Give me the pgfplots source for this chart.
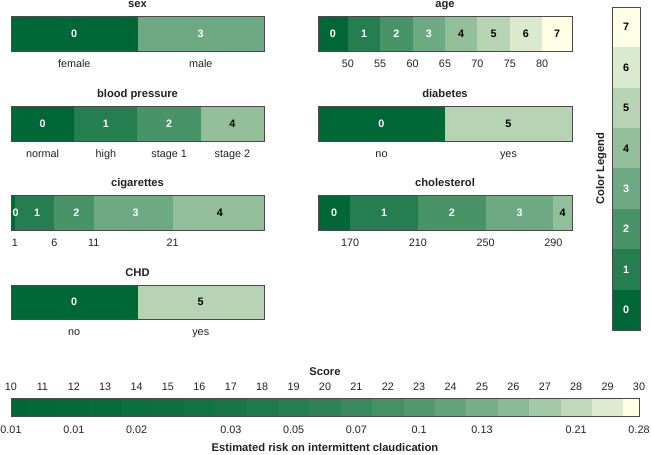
\documentclass[border=0pt]{standalone}
\usepackage{pgfplots}
\pgfplotsset{compat=1.18}
\usepackage{fontspec}
\setmainfont{Liberation Sans}
\definecolor{cA}{HTML}{006837}
\definecolor{cB}{HTML}{FFFFE5}
\colorlet{c0}{cA}
\colorlet{c1}{cB!14.29!cA}
\colorlet{c2}{cB!28.57!cA}
\colorlet{c3}{cB!42.86!cA}
\colorlet{c4}{cB!57.14!cA}
\colorlet{c5}{cB!71.43!cA}
\colorlet{c6}{cB!85.71!cA}
\colorlet{c7}{cB}
\definecolor{bord}{HTML}{4A4A4A}
\definecolor{txt}{HTML}{222222}
\newcommand{\fs}{\fontsize{10.8}{12}\selectfont}
\newcommand{\ft}{\fontsize{11.2}{13}\selectfont}
\newcommand{\seg}[3]{\addplot[fill=#3, draw=none] coordinates {(#1,0) (#2,0) (#2,1) (#1,1)} --cycle;}
\newcommand{\vseg}[2]{\addplot[fill=#2, draw=none] coordinates {(0,#1-0.5) (1,#1-0.5) (1,#1+0.5) (0,#1+0.5)} --cycle;}
\newcommand{\lab}[3]{\node[font=\fs\bfseries, text=#3] at (axis cs:#1,0.5) {#2};}
\pgfplotsset{
  /pgf/number format/assume math mode=true,
  panel/.style={scale only axis, anchor=south west, ymin=0, ymax=1, ytick=\empty,
    axis on top, axis line style={draw=bord, line width=0.8pt},
    major tick length=0pt, width=253pt, height=35pt,
    xticklabel style={font=\fs, text=txt, anchor=base, yshift=-17pt},
    title style={font=\ft\bfseries, text=txt, at={(0.5,1)}, anchor=base, yshift=2pt}},
}
\begin{document}
\begin{tikzpicture}[x=1pt,y=1pt]
\path[use as bounding box] (0,0) rectangle (651,455);

% sex
\begin{axis}[panel, at={(11pt,404pt)}, xmin=-0.5, xmax=1.5, xtick={0,1}, xticklabels={female,male}, title={sex}]
\seg{-0.5}{0.5}{c0}
\seg{0.5}{1.5}{c3}
\lab{0}{0}{white}
\lab{1}{3}{white}
\end{axis}

% age
\begin{axis}[panel, at={(318pt,404pt)}, width=254pt, xmin=45.4, xmax=84.6, xtick={50,55,60,65,70,75,80}, title={age}]
\seg{45.4}{50}{c0}
\seg{50}{55}{c1}
\seg{55}{60}{c2}
\seg{60}{65}{c3}
\seg{65}{70}{c4}
\seg{70}{75}{c5}
\seg{75}{80}{c6}
\seg{80}{84.6}{c7}
\lab{47.7}{0}{white}
\lab{52.5}{1}{white}
\lab{57.5}{2}{white}
\lab{62.5}{3}{white}
\lab{67.5}{4}{black}
\lab{72.5}{5}{black}
\lab{77.5}{6}{black}
\lab{82.3}{7}{black}
\end{axis}

% blood pressure
\begin{axis}[panel, at={(11pt,314pt)}, xmin=-0.5, xmax=3.5, xtick={0,1,2,3}, xticklabels={normal,high,stage 1,stage 2}, title={blood pressure}]
\seg{-0.5}{0.5}{c0}
\seg{0.5}{1.5}{c1}
\seg{1.5}{2.5}{c2}
\seg{2.5}{3.5}{c4}
\lab{0}{0}{white}
\lab{1}{1}{white}
\lab{2}{2}{white}
\lab{3}{4}{black}
\end{axis}

% diabetes
\begin{axis}[panel, at={(318pt,314pt)}, width=254pt, xmin=-0.5, xmax=1.5, xtick={0,1}, xticklabels={no,yes}, title={diabetes}]
\seg{-0.5}{0.5}{c0}
\seg{0.5}{1.5}{c5}
\lab{0}{0}{white}
\lab{1}{5}{black}
\end{axis}

% cigarettes
\begin{axis}[panel, at={(11pt,225pt)}, xmin=0.5, xmax=32.6, xtick={1,6,11,21}, title={cigarettes}]
\seg{0.5}{1}{c0}
\seg{1}{6}{c1}
\seg{6}{11}{c2}
\seg{11}{21}{c3}
\seg{21}{32.6}{c4}
\lab{1.1}{0}{white}
\lab{3.8}{1}{white}
\lab{8.8}{2}{white}
\lab{16.3}{3}{white}
\lab{27}{4}{black}
\end{axis}

% cholesterol
\begin{axis}[panel, at={(318pt,225pt)}, width=254pt, xmin=151, xmax=301, xtick={170,210,250,290}, title={cholesterol}]
\seg{151}{170}{c0}
\seg{170}{210}{c1}
\seg{210}{250}{c2}
\seg{250}{290}{c3}
\seg{290}{301}{c4}
\lab{160.5}{0}{white}
\lab{190}{1}{white}
\lab{230}{2}{white}
\lab{270}{3}{white}
\lab{295.5}{4}{black}
\end{axis}

% CHD
\begin{axis}[panel, at={(11pt,136pt)}, height=34pt, xmin=-0.5, xmax=1.5, xtick={0,1}, xticklabels={no,yes}, title={CHD}]
\seg{-0.5}{0.5}{c0}
\seg{0.5}{1.5}{c5}
\lab{0}{0}{white}
\lab{1}{5}{black}
\end{axis}

% colour legend
\begin{axis}[scale only axis, anchor=south west, at={(612pt,125pt)}, width=28pt, height=323pt,
  xmin=0, xmax=1, ymin=-0.5, ymax=7.5, xtick=\empty, ytick=\empty, axis on top,
  axis line style={draw=bord, line width=0.8pt},
  ylabel={Color Legend}, ylabel style={font=\ft\bfseries, text=txt, yshift=2pt}]
\vseg{0}{c0}
\vseg{1}{c1}
\vseg{2}{c2}
\vseg{3}{c3}
\vseg{4}{c4}
\vseg{5}{c5}
\vseg{6}{c6}
\vseg{7}{c7}
\node[font=\fs\bfseries, text=white] at (axis cs:0.5,0) {0};
\node[font=\fs\bfseries, text=white] at (axis cs:0.5,1) {1};
\node[font=\fs\bfseries, text=white] at (axis cs:0.5,2) {2};
\node[font=\fs\bfseries, text=white] at (axis cs:0.5,3) {3};
\node[font=\fs\bfseries, text=black] at (axis cs:0.5,4) {4};
\node[font=\fs\bfseries, text=black] at (axis cs:0.5,5) {5};
\node[font=\fs\bfseries, text=black] at (axis cs:0.5,6) {6};
\node[font=\fs\bfseries, text=black] at (axis cs:0.5,7) {7};
\end{axis}

% score bar with risk
\begin{axis}[panel, at={(11pt,39pt)}, width=628pt, height=18pt, xmin=10, xmax=30,
  xtick={10,12,14,17,19,21,23,25,28,30},
  xticklabels={0.01,0.01,0.02,0.03,0.05,0.07,0.1,0.13,0.21,0.28},
  xticklabel style={yshift=-1pt},
  xlabel={Estimated risk on intermittent claudication},
  xlabel style={font=\ft\bfseries, text=txt, at={(0.5,0)}, anchor=base, yshift=-36pt}]
\seg{10}{10.5}{cB!0!cA}
\seg{10.5}{11.5}{cB!0.7!cA}
\seg{11.5}{12.5}{cB!1.6!cA}
\seg{12.5}{13.5}{cB!2.7!cA}
\seg{13.5}{14.5}{cB!3.9!cA}
\seg{14.5}{15.5}{cB!5.4!cA}
\seg{15.5}{16.5}{cB!7.1!cA}
\seg{16.5}{17.5}{cB!9.3!cA}
\seg{17.5}{18.5}{cB!11.7!cA}
\seg{18.5}{19.5}{cB!14.7!cA}
\seg{19.5}{20.5}{cB!18.1!cA}
\seg{20.5}{21.5}{cB!22.2!cA}
\seg{21.5}{22.5}{cB!27.0!cA}
\seg{22.5}{23.5}{cB!32.5!cA}
\seg{23.5}{24.5}{cB!38.9!cA}
\seg{24.5}{25.5}{cB!46.3!cA}
\seg{25.5}{26.5}{cB!54.7!cA}
\seg{26.5}{27.5}{cB!64.3!cA}
\seg{27.5}{28.5}{cB!75.0!cA}
\seg{28.5}{29.5}{cB!86.9!cA}
\seg{29.5}{30}{cB!100!cA}
\end{axis}
\begin{axis}[scale only axis, anchor=south west, at={(11pt,39pt)}, width=628pt, height=18pt,
  xmin=10, xmax=30, ymin=0, ymax=1, ytick=\empty, axis line style={draw=none},
  major tick length=0pt, xticklabel pos=upper, xtick={10,11,...,30},
  xticklabel style={font=\fs, text=txt, anchor=base, yshift=7pt},
  title={Score}, title style={font=\ft\bfseries, text=txt, at={(0.5,1)}, anchor=base, yshift=16pt}]
\end{axis}
\end{tikzpicture}
\end{document}
